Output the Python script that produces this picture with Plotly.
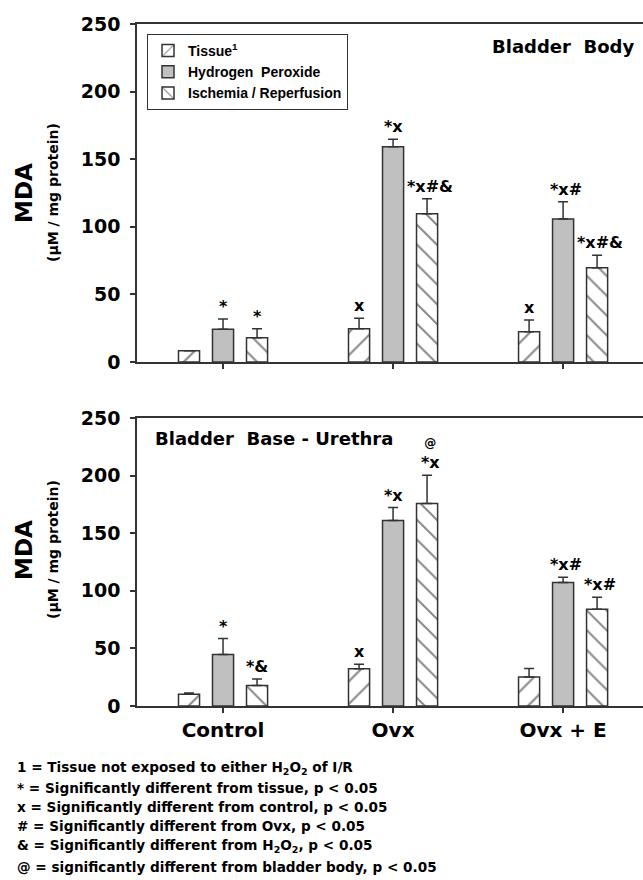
import plotly.graph_objects as go

# ---------------- data ----------------
groups = ["Control", "Ovx", "Ovx + E"]
series_names = ["Tissue<sup>1</sup>", "Hydrogen\u00a0 Peroxide", "Ischemia / Reperfusion"]

# Bladder body (top panel)
body_tissue = [8.4, 24.6, 22.4]
body_tissue_err = [0.0, 7.7, 8.7]
body_h2o2 = [24.2, 159.2, 105.8]
body_h2o2_err = [7.6, 5.5, 12.8]
body_ir = [18.0, 109.7, 69.7]
body_ir_err = [6.6, 11.1, 9.2]
body_tissue_sig = ["", "x", "x"]
body_h2o2_sig = ["*", "*x", "*x#"]
body_ir_sig = ["*", "*x#&", "*x#&"]

# Bladder base - urethra (bottom panel)
base_tissue = [10.2, 32.4, 25.2]
base_tissue_err = [1.1, 3.8, 7.3]
base_h2o2 = [44.6, 161.0, 107.1]
base_h2o2_err = [13.9, 11.3, 4.6]
base_ir = [17.7, 175.7, 83.9]
base_ir_err = [5.8, 24.6, 10.4]
base_tissue_sig = ["", "x", ""]
base_h2o2_sig = ["*", "*x", "*x#"]
base_ir_sig = ["*&", "@*x", "*x#"]

y_ticks = [0, 50, 100, 150, 200, 250]

footnotes = [
    "1 = Tissue not exposed to either H<sub>2</sub>O<sub>2</sub> of I/R",
    "* = Significantly different from tissue, p < 0.05",
    "x = Significantly different from control, p < 0.05",
    "# = Significantly different from Ovx, p < 0.05",
    "& = Significantly different from H<sub>2</sub>O<sub>2</sub>, p < 0.05",
    "@ = significantly different from bladder body, p < 0.05",
]

# ---------------- style ----------------
W, H = 643, 880
ML, MR, MT, MB = 137, 0, 24, 174
PW, PH = W - ML - MR, H - MT - MB
BOLD = "DejaVu Sans"
ARIAL = "Liberation Sans"
LINE = "#333333"


def py(p):  # pixel row -> paper y
    return (H - MB - p) / PH


def px(p):  # pixel col -> paper x
    return (p - ML) / PW


styles = [
    dict(color="white", pattern=dict(shape="/", size=16, solidity=0.13, fgcolor="#111", bgcolor="white")),
    dict(color="#c0c0c0"),
    dict(color="white", pattern=dict(shape="\\", size=14, solidity=0.14, fgcolor="#111", bgcolor="white")),
]

fig = go.Figure()

panels = [
    ("x", "y", [body_tissue, body_h2o2, body_ir], [body_tissue_err, body_h2o2_err, body_ir_err],
     [body_tissue_sig, body_h2o2_sig, body_ir_sig], True),
    ("x2", "y2", [base_tissue, base_h2o2, base_ir], [base_tissue_err, base_h2o2_err, base_ir_err],
     [base_tissue_sig, base_h2o2_sig, base_ir_sig], False),
]

annotations = []
offsets = [-0.2, 0.0, 0.2]
for xa, ya, vals, errs, sigs, show in panels:
    for k in range(3):
        fig.add_trace(go.Bar(
            x=groups, y=vals[k], name=series_names[k], xaxis=xa, yaxis=ya,
            showlegend=show, legendgroup=str(k),
            marker=dict(line=dict(color=LINE, width=1.5), **styles[k]),
            error_y=dict(type="data", array=errs[k], arrayminus=[0] * 3, symmetric=False,
                         color=LINE, thickness=1.5, width=5),
        ))
        for i in range(3):
            s = sigs[k][i]
            if not s:
                continue
            if s.startswith("@"):
                s = "<span style='font-size:12px'>@</span><br>" + s[1:]
            annotations.append(dict(
                x=i + offsets[k], y=vals[k][i] + errs[k][i], xref=xa, yref=ya,
                text=s, showarrow=False, xanchor="center", yanchor="bottom", yshift=1,
                xshift=3 if len(sigs[k][i]) > 2 else 0,
                font=dict(family=BOLD, size=16, color="black", weight="bold"),
            ))

axis_common = dict(showline=True, linecolor=LINE, linewidth=1.5, ticks="outside",
                   tickcolor=LINE, ticklen=5, tickwidth=1.5, showgrid=False, zeroline=False)

fig.update_layout(
    width=W, height=H, margin=dict(l=ML, r=MR, t=MT, b=MB),
    plot_bgcolor="white", paper_bgcolor="white",
    barmode="group", bargap=0.4, bargroupgap=0.38,
    xaxis=dict(domain=[0, 1], anchor="y", range=[-0.506, 2.47], mirror=True,
               showticklabels=False, **axis_common),
    yaxis=dict(domain=[py(362), 1], anchor="x", range=[0, 250], tickvals=y_ticks,
               ticklabelstandoff=6,
               tickfont=dict(family=BOLD, size=19, color="black", weight="bold"), **axis_common),
    xaxis2=dict(domain=[0, 1], anchor="y2", range=[-0.506, 2.47], mirror=True,
                tickfont=dict(family=BOLD, size=20, color="black", weight="bold"), **axis_common),
    yaxis2=dict(domain=[0, py(418)], anchor="x2", range=[0, 250], tickvals=y_ticks,
                ticklabelstandoff=6,
                tickfont=dict(family=BOLD, size=19, color="black", weight="bold"), **axis_common),
    legend=dict(x=px(147), y=py(34), xanchor="left", yanchor="top",
                bordercolor=LINE, borderwidth=1, bgcolor="white",
                font=dict(family=ARIAL, size=14, color="black", weight="bold"),
                tracegroupgap=0),
)

# panel titles
annotations.append(dict(x=px(636), y=py(47), xref="paper", yref="paper", xanchor="right",
                        yanchor="middle", showarrow=False, text="Bladder\u00a0 Body",
                        font=dict(family=BOLD, size=18, color="black", weight="bold")))
annotations.append(dict(x=px(153), y=py(438), xref="paper", yref="paper", xanchor="left",
                        yanchor="middle", showarrow=False, text="Bladder\u00a0 Base - Urethra",
                        font=dict(family=BOLD, size=18, color="black", weight="bold")))

# y-axis titles
for cy in (193, 550):
    annotations.append(dict(x=px(24), y=py(cy), xref="paper", yref="paper", textangle=-90,
                            xanchor="center", yanchor="middle",
                            showarrow=False, text="MDA",
                            font=dict(family=BOLD, size=23, color="black", weight="bold")))
    annotations.append(dict(x=px(53), y=py(cy), xref="paper", yref="paper", textangle=-90,
                            xanchor="center", yanchor="middle",
                            showarrow=False, text="(\u00b5M / mg protein)",
                            font=dict(family=BOLD, size=14, color="black", weight="bold")))

# footnotes
foot_y = [768, 788, 807, 826, 846, 867]
for t, fy in zip(footnotes, foot_y):
    annotations.append(dict(x=px(15), y=py(fy), xref="paper", yref="paper", xanchor="left",
                            yanchor="middle", showarrow=False, text=t,
                            font=dict(family=BOLD, size=13.6, color="black", weight="bold")))

fig.update_layout(annotations=annotations)
fig.write_html("out.html")
